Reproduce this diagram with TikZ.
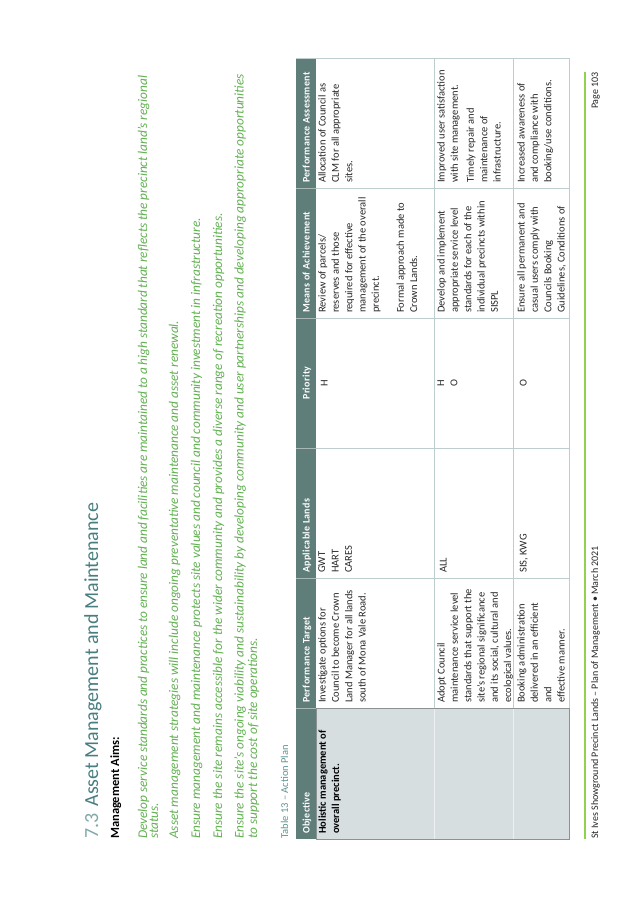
\documentclass[tikz,border=0pt]{standalone}
\usepackage{fontspec}
\setmainfont{Carlito}
\newfontfamily\headfont[LetterSpace=3]{Carlito}
\definecolor{headc}{RGB}{95,125,121}
\definecolor{objc}{RGB}{214,222,224}
\definecolor{gridc}{RGB}{190,206,206}
\definecolor{objl}{RGB}{140,146,146}
\definecolor{aimc}{RGB}{98,176,82}
\definecolor{ttlc}{RGB}{72,126,128}
\definecolor{numc}{RGB}{128,168,170}
\definecolor{capc}{RGB}{96,146,146}
\definecolor{footc}{RGB}{146,208,80}

\begin{document}
\begin{tikzpicture}[x=1pt,y=1pt,
  cell/.style={anchor=north west,inner sep=0pt,align=left,text=black!85,
    font=\fontsize{10.5}{13.3}\selectfont,execute at begin node={\strut}},
  head/.style={anchor=base west,inner sep=0pt,text=white,
    font=\headfont\fontsize{10}{12}\selectfont\bfseries},
  aim/.style={anchor=base west,inner sep=0pt,text=aimc,
    font=\fontsize{13.3}{15}\selectfont\itshape}]
\useasboundingbox (0,0) rectangle (638,900);
\begin{scope}[rotate=90,transform shape]
% heading and aims
\node[anchor=base west,inner sep=0pt,text=ttlc,font=\fontsize{20}{24}\selectfont] (ttl) at (61,-98)
  {{\color{numc}7.3}\hspace{7pt}Asset Management and Maintenance};
\node[anchor=base west,inner sep=0pt,font=\fontsize{12.5}{15}\selectfont\bfseries] (aims) at (61,-119) {Management Aims:};
\node[aim] (a1) at (61,-147) {\makebox[763pt][s]{Develop service standards and practices to ensure land and facilities are maintained to a high standard that reflects the precinct land’s regional}};
\node[aim] (a2) at (61,-158) {status.};
\node[aim] (a3) at (61,-178) {Asset management strategies will include ongoing preventative maintenance and asset renewal.};
\node[aim] (a4) at (61,-200) {Ensure management and maintenance protects site values and council and community investment in infrastructure.};
\node[aim] (a5) at (61,-222) {Ensure the site remains accessible for the wider community and provides a diverse range of recreation opportunities.};
\node[aim] (a6) at (61,-243.5) {Ensure the site’s ongoing viability and sustainability by developing community and user partnerships and developing appropriate opportunities};
\node[aim] (a7) at (61,-257) {to support the cost of site operations.};
\node[anchor=base west,inner sep=0pt,text=capc,font=\fontsize{10.5}{12}\selectfont] (cap) at (61,-288) {Table 13 – Action Plan};

% table
\fill[headc] (61,-296) rectangle (842,-316);
\fill[objc] (61,-316) rectangle (192,-569);
\draw[gridc] (192,-434) -- (842,-434) (192,-513) -- (842,-513) (192,-569) -- (842,-569) (842,-296) -- (842,-569);
\draw[white!55!objc] (61,-434) -- (192,-434) (61,-513) -- (192,-513);
\draw[gridc] (322,-316) -- (322,-569) (452,-316) -- (452,-569) (582,-316) -- (582,-569) (712,-316) -- (712,-569);
\draw[white!45!headc] (192,-296) -- (192,-316) (322,-296) -- (322,-316) (452,-296) -- (452,-316) (582,-296) -- (582,-316) (712,-296) -- (712,-316);
\draw[objl] (192,-316) -- (61,-316) -- (61,-569) -- (192,-569) -- cycle;

\node[head] (h1) at (66,-309.5) {Objective};
\node[head] (h2) at (197,-309.5) {Performance Target};
\node[head] (h3) at (327,-309.5) {Applicable Lands};
\node[head,anchor=base] (h4) at (517,-309.5) {Priority};
\node[head] (h5) at (587,-309.5) {Means of Achievement};
\node[head] (h6) at (717,-309.5) {Performance Assessment};

% row 1
\node[cell,font=\fontsize{10.5}{13.3}\selectfont\bfseries,text=black] (o1) at (66,-318.2) {Holistic management of\\overall precinct.};
\node[cell] (t1) at (197,-318.2) {Investigate options for\\Council to become Crown\\Land Manager for all lands\\south of Mona Vale Road.};
\node[cell] (l1) at (327,-318.2) {GWT\\HART\\CARES};
\node[cell,anchor=north,align=center] (p1) at (517,-318.2) {H};
\node[cell] (m1) at (587,-318.2) {Review of parcels/\\reserves and those\\required for effective\\management of the overall\\precinct.\\[11.7pt]Formal approach made to\\Crown Lands.};
\node[cell] (s1) at (717,-318.2) {Allocation of Council as\\CLM for all appropriate\\sites.};

% row 2
\node[cell] (t2) at (197,-437.2) {Adopt Council\\maintenance service level\\standards that support the\\site’s regional significance\\and its social, cultural and\\ecological values.};
\node[cell] (l2) at (327,-437.2) {ALL};
\node[cell,anchor=north,align=center] (p2) at (517,-437.2) {H\\O};
\node[cell] (m2) at (587,-437.2) {Develop and implement\\appropriate service level\\standards for each of the\\individual precincts within\\SISPL};
\node[cell] (s2) at (717,-437.2) {Improved user satisfaction\\with site management.\\[2.7pt]Timely repair and\\maintenance of\\infrastructure.};

% row 3
\node[cell] (t3) at (197,-517.2) {Booking administration\\delivered in an efficient\\and\\effective manner.};
\node[cell] (l3) at (327,-517.2) {SIS, KWG};
\node[cell,anchor=north,align=center] (p3) at (517,-517.2) {O};
\node[cell] (m3) at (587,-517.2) {Ensure all permanent and\\casual users comply with\\Councils Booking\\Guidelines, Conditions of};
\node[cell] (s3) at (717,-517.2) {Increased awareness of\\and compliance with\\booking/use conditions.};

% footer
\draw[footc,line width=2.5pt] (61,-585) -- (828,-585);
\node[anchor=base west,inner sep=0pt,text=black!85,font=\fontsize{10}{12}\selectfont] (ft) at (61,-598) {St Ives Showground Precinct Lands – Plan of Management • March 2021};
\node[anchor=base east,inner sep=0pt,text=black!85,font=\fontsize{10}{12}\selectfont] (pg) at (828,-598) {Page 103};
\end{scope}
\end{tikzpicture}
\end{document}
